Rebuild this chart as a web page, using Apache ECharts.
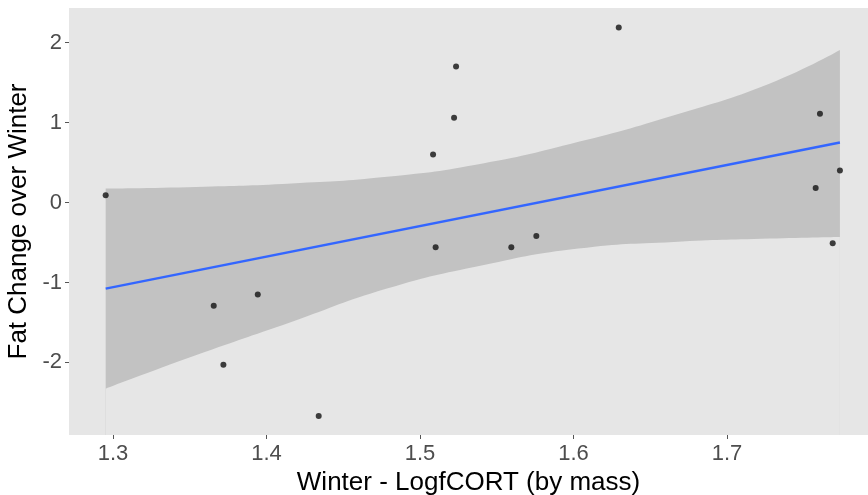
<!DOCTYPE html>
<html>
<head>
<meta charset="utf-8">
<script src="https://cdn.jsdelivr.net/npm/echarts@6/dist/echarts.min.js"></script>
<style>
  html, body { margin: 0; padding: 0; background: #fff; }
  #main { width: 868px; height: 495px; }
</style>
</head>
<body>
<div id="main"></div>
<script>
// points
const cortX = [1.2952, 1.3656, 1.3943, 1.3719, 1.4340, 1.5235, 1.5222, 1.5085,
               1.5102, 1.5595, 1.5758, 1.6295, 1.7606, 1.7736, 1.7578, 1.7689];
const fatY = [0.09, -1.29, -1.15, -2.03, -2.67, 1.70, 1.06, 0.60,
              -0.56, -0.56, -0.42, 2.19, 1.11, 0.40, 0.18, -0.51];

// fitted line ends
const fitX = [1.2952, 1.7736];
const fitY = [-1.077, 0.751];

// confidence band edges
const bandX = [1.2952, 1.3539, 1.4162, 1.4785, 1.5409, 1.6033, 1.6655, 1.7280, 1.7736];
const bandUpper = [0.175, 0.195, 0.238, 0.321, 0.488, 0.759, 1.093, 1.49, 1.907];
const bandLower = [-2.329, -1.912, -1.495, -1.077, -0.785, -0.576, -0.493, -0.451, -0.431];

// tick labels
const xTicks = [1.3, 1.4, 1.5, 1.6, 1.7];
const yTicks = [-2, -1, 0, 1, 2];

const panelBg = "#e6e6e6";
const pts = cortX.map((x, i) => [x, fatY[i]]);
const fit = fitX.map((x, i) => [x, fitY[i]]);
const up = bandX.map((x, i) => [x, bandUpper[i]]);
const low = bandX.map((x, i) => [x, bandLower[i]]);

let myChart = echarts.init(document.getElementById("main"));
myChart.setOption({
  animation: false,
  grid: {
    left: 69, top: 8, right: 0, bottom: 60,
    outerBoundsMode: "none", containLabel: false,
    show: true, backgroundColor: panelBg, borderWidth: 0
  },
  xAxis: {
    type: "value",
    min: 1.2713, max: 1.7919,
    name: "Winter - LogfCORT (by mass)",
    nameLocation: "middle",
    nameGap: 21,
    nameTextStyle: { fontSize: 26, color: "#000", fontFamily: "Liberation Sans" },
    axisLine: { show: false, onZero: false },
    axisTick: { show: true, length: 4, lineStyle: { color: "#555" }, customValues: xTicks },
    axisLabel: { fontSize: 22, color: "#4d4d4d", margin: 8, fontFamily: "Liberation Sans", customValues: xTicks },
    splitLine: { show: false }
  },
  yAxis: {
    type: "value",
    min: -2.908, max: 2.433,
    name: "Fat Change over Winter",
    nameLocation: "middle",
    nameGap: 30,
    nameTextStyle: { fontSize: 26, color: "#000", fontFamily: "Liberation Sans" },
    axisLine: { show: false, onZero: false },
    axisTick: { show: true, length: 4, lineStyle: { color: "#555" }, customValues: yTicks },
    axisLabel: { fontSize: 22, color: "#4d4d4d", margin: 7, fontFamily: "Liberation Sans", customValues: yTicks },
    splitLine: { show: false }
  },
  series: [
    {
      // upper edge, filled down to the panel bottom
      type: "line", data: up, smooth: true, symbol: "none", silent: true,
      lineStyle: { width: 0 },
      areaStyle: { color: "#c2c2c2", opacity: 1, origin: "start" }, z: 1
    },
    {
      // lower edge, panel colour painted back below it
      type: "line", data: low, smooth: true, symbol: "none", silent: true,
      lineStyle: { width: 0 },
      areaStyle: { color: panelBg, opacity: 1, origin: "start" }, z: 1
    },
    {
      type: "line", data: fit, symbol: "none",
      lineStyle: { color: "#3366ff", width: 2.5 }, z: 2
    },
    {
      type: "scatter", data: pts, symbolSize: 6,
      itemStyle: { color: "#111" }, z: 3
    }
  ]
});
</script>
</body>
</html>
